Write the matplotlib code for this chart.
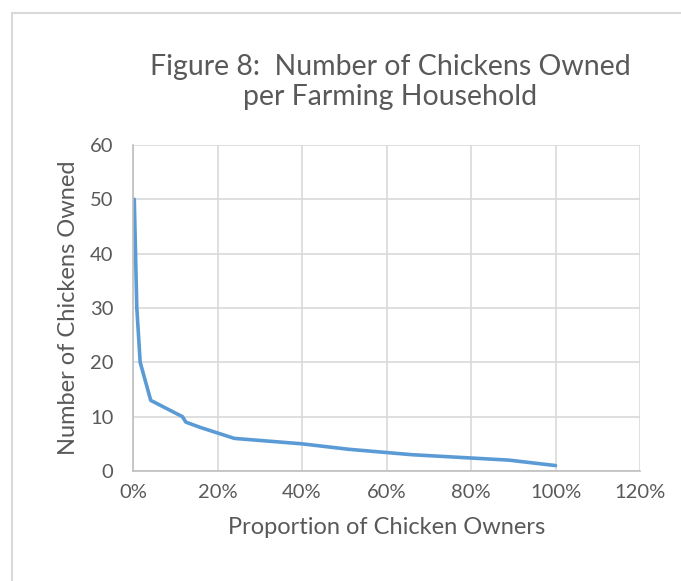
import matplotlib.pyplot as plt
from matplotlib.patches import Rectangle
from matplotlib.ticker import FuncFormatter

plt.rcParams['font.family'] = ['Lato', 'DejaVu Sans']

# proportion of chicken owners (%) and chickens owned
share = [0.3, 0.9, 1.7, 4.2, 11.7, 12.5, 16, 24, 40, 51, 66, 89, 100]
chickens = [50, 30, 20, 13, 10, 9, 8, 6, 5, 4, 3, 2, 1]

fig = plt.figure(figsize=(6.81, 5.81), dpi=100)
ax = fig.add_axes([133 / 681, 1 - 471 / 581, (640 - 133) / 681, (471 - 145) / 581])

# outer chart border (runs off the right and bottom of the picture)
fig.patches.append(Rectangle((12 / 681, -0.05), 1.0, 1 - 13 / 581 + 0.05,
                             transform=fig.transFigure, fill=False,
                             edgecolor='#d9d9d9', linewidth=1.5))

ax.plot(share, chickens, color='#5b9bd5', linewidth=2.6, solid_capstyle='round')

ax.set_xlim(0, 120)
ax.set_ylim(0, 60)
ax.set_xticks(range(0, 121, 20))
ax.set_yticks(range(0, 61, 10))
ax.xaxis.set_major_formatter(FuncFormatter(lambda v, p: '%d%%' % v))
ax.grid(True, color='#d9d9d9', linewidth=1.2)
ax.set_axisbelow(True)
for s in ['top', 'right']:
    ax.spines[s].set_visible(False)
ax.spines['left'].set_color('#bfbfbf')
ax.spines['bottom'].set_color('#bfbfbf')
ax.spines['left'].set_linewidth(1.2)
ax.spines['bottom'].set_linewidth(1.2)
ax.tick_params(axis='x', length=0, labelsize=14.5, colors='#595959', pad=9)
ax.tick_params(axis='y', length=0, labelsize=14.5, colors='#595959', pad=14)

ax.set_xlabel('Proportion of Chicken Owners', fontsize=17, color='#595959', labelpad=12)
ax.set_ylabel('Number of Chickens Owned', fontsize=17, color='#595959', labelpad=8)

fig.text(390 / 681, 1 - 82 / 581, 'Figure 8:  Number of Chickens Owned\nper Farming Household',
         ha='center', va='center', fontsize=20.5, color='#595959', linespacing=1.2)

fig.savefig('out.png', dpi=100)
